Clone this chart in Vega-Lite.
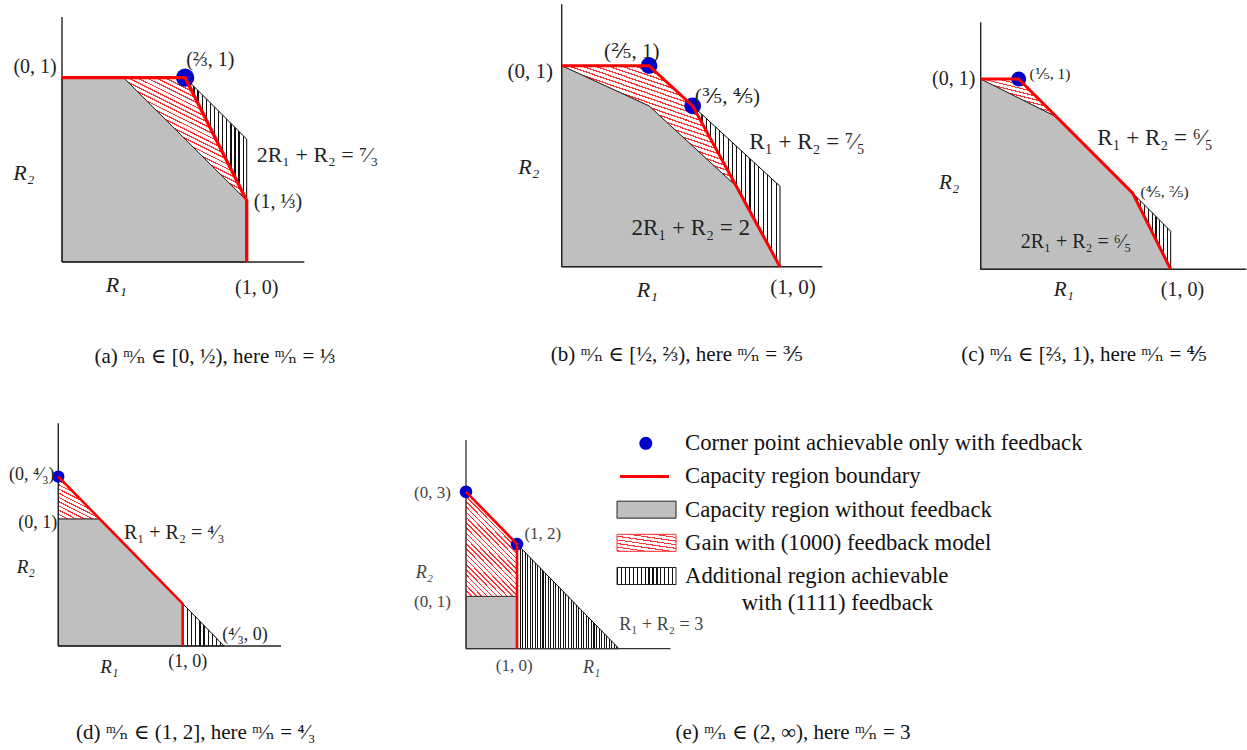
{
"$schema": "https://vega.github.io/schema/vega-lite/v6.json",
"padding": 0,
"autosize": {"type": "pad"},
"background": "white",
"spacing": 0,
"bounds": "full",
"config": {
 "view": {"stroke": null},
 "text": {"font": "Liberation Serif, DejaVu Serif", "align": "center", "baseline": "middle"},
 "style": {
  "vh10": {"fill": {"gradient": "linear", "x1": 0, "y1": 0, "x2": 1, "y2": 0, "stops": [
{"offset":0,"color":"#111"},{"offset":0.03,"color":"#111"},{"offset":0.03,"color":"#fff"},{"offset":0.1,"color":"#fff"},
{"offset":0.1,"color":"#111"},{"offset":0.13,"color":"#111"},{"offset":0.13,"color":"#fff"},{"offset":0.2,"color":"#fff"},
{"offset":0.2,"color":"#111"},{"offset":0.23,"color":"#111"},{"offset":0.23,"color":"#fff"},{"offset":0.3,"color":"#fff"},
{"offset":0.3,"color":"#111"},{"offset":0.33,"color":"#111"},{"offset":0.33,"color":"#fff"},{"offset":0.4,"color":"#fff"},
{"offset":0.4,"color":"#111"},{"offset":0.43,"color":"#111"},{"offset":0.43,"color":"#fff"},{"offset":0.5,"color":"#fff"},
{"offset":0.5,"color":"#111"},{"offset":0.53,"color":"#111"},{"offset":0.53,"color":"#fff"},{"offset":0.6,"color":"#fff"},
{"offset":0.6,"color":"#111"},{"offset":0.63,"color":"#111"},{"offset":0.63,"color":"#fff"},{"offset":0.7,"color":"#fff"},
{"offset":0.7,"color":"#111"},{"offset":0.73,"color":"#111"},{"offset":0.73,"color":"#fff"},{"offset":0.8,"color":"#fff"},
{"offset":0.8,"color":"#111"},{"offset":0.83,"color":"#111"},{"offset":0.83,"color":"#fff"},{"offset":0.9,"color":"#fff"},
{"offset":0.9,"color":"#111"},{"offset":0.93,"color":"#111"},{"offset":0.93,"color":"#fff"},{"offset":1,"color":"#fff"}]}},
  "vh15": {"fill": {"gradient": "linear", "x1": 0, "y1": 0, "x2": 1, "y2": 0, "stops": [
{"offset":0,"color":"#111"},{"offset":0.02,"color":"#111"},{"offset":0.02,"color":"#fff"},{"offset":0.066667,"color":"#fff"},
{"offset":0.066667,"color":"#111"},{"offset":0.086667,"color":"#111"},{"offset":0.086667,"color":"#fff"},{"offset":0.133333,"color":"#fff"},
{"offset":0.133333,"color":"#111"},{"offset":0.153333,"color":"#111"},{"offset":0.153333,"color":"#fff"},{"offset":0.2,"color":"#fff"},
{"offset":0.2,"color":"#111"},{"offset":0.22,"color":"#111"},{"offset":0.22,"color":"#fff"},{"offset":0.266667,"color":"#fff"},
{"offset":0.266667,"color":"#111"},{"offset":0.286667,"color":"#111"},{"offset":0.286667,"color":"#fff"},{"offset":0.333333,"color":"#fff"},
{"offset":0.333333,"color":"#111"},{"offset":0.353333,"color":"#111"},{"offset":0.353333,"color":"#fff"},{"offset":0.4,"color":"#fff"},
{"offset":0.4,"color":"#111"},{"offset":0.42,"color":"#111"},{"offset":0.42,"color":"#fff"},{"offset":0.466667,"color":"#fff"},
{"offset":0.466667,"color":"#111"},{"offset":0.486667,"color":"#111"},{"offset":0.486667,"color":"#fff"},{"offset":0.533333,"color":"#fff"},
{"offset":0.533333,"color":"#111"},{"offset":0.553333,"color":"#111"},{"offset":0.553333,"color":"#fff"},{"offset":0.6,"color":"#fff"},
{"offset":0.6,"color":"#111"},{"offset":0.62,"color":"#111"},{"offset":0.62,"color":"#fff"},{"offset":0.666667,"color":"#fff"},
{"offset":0.666667,"color":"#111"},{"offset":0.686667,"color":"#111"},{"offset":0.686667,"color":"#fff"},{"offset":0.733333,"color":"#fff"},
{"offset":0.733333,"color":"#111"},{"offset":0.753333,"color":"#111"},{"offset":0.753333,"color":"#fff"},{"offset":0.8,"color":"#fff"},
{"offset":0.8,"color":"#111"},{"offset":0.82,"color":"#111"},{"offset":0.82,"color":"#fff"},{"offset":0.866667,"color":"#fff"},
{"offset":0.866667,"color":"#111"},{"offset":0.886667,"color":"#111"},{"offset":0.886667,"color":"#fff"},{"offset":0.933333,"color":"#fff"},
{"offset":0.933333,"color":"#111"},{"offset":0.953333,"color":"#111"},{"offset":0.953333,"color":"#fff"},{"offset":1,"color":"#fff"}]}},
  "vh20": {"fill": {"gradient": "linear", "x1": 0, "y1": 0, "x2": 1, "y2": 0, "stops": [
{"offset":0,"color":"#111"},{"offset":0.0125,"color":"#111"},{"offset":0.0125,"color":"#fff"},{"offset":0.05,"color":"#fff"},
{"offset":0.05,"color":"#111"},{"offset":0.0625,"color":"#111"},{"offset":0.0625,"color":"#fff"},{"offset":0.1,"color":"#fff"},
{"offset":0.1,"color":"#111"},{"offset":0.1125,"color":"#111"},{"offset":0.1125,"color":"#fff"},{"offset":0.15,"color":"#fff"},
{"offset":0.15,"color":"#111"},{"offset":0.1625,"color":"#111"},{"offset":0.1625,"color":"#fff"},{"offset":0.2,"color":"#fff"},
{"offset":0.2,"color":"#111"},{"offset":0.2125,"color":"#111"},{"offset":0.2125,"color":"#fff"},{"offset":0.25,"color":"#fff"},
{"offset":0.25,"color":"#111"},{"offset":0.2625,"color":"#111"},{"offset":0.2625,"color":"#fff"},{"offset":0.3,"color":"#fff"},
{"offset":0.3,"color":"#111"},{"offset":0.3125,"color":"#111"},{"offset":0.3125,"color":"#fff"},{"offset":0.35,"color":"#fff"},
{"offset":0.35,"color":"#111"},{"offset":0.3625,"color":"#111"},{"offset":0.3625,"color":"#fff"},{"offset":0.4,"color":"#fff"},
{"offset":0.4,"color":"#111"},{"offset":0.4125,"color":"#111"},{"offset":0.4125,"color":"#fff"},{"offset":0.45,"color":"#fff"},
{"offset":0.45,"color":"#111"},{"offset":0.4625,"color":"#111"},{"offset":0.4625,"color":"#fff"},{"offset":0.5,"color":"#fff"},
{"offset":0.5,"color":"#111"},{"offset":0.5125,"color":"#111"},{"offset":0.5125,"color":"#fff"},{"offset":0.55,"color":"#fff"},
{"offset":0.55,"color":"#111"},{"offset":0.5625,"color":"#111"},{"offset":0.5625,"color":"#fff"},{"offset":0.6,"color":"#fff"},
{"offset":0.6,"color":"#111"},{"offset":0.6125,"color":"#111"},{"offset":0.6125,"color":"#fff"},{"offset":0.65,"color":"#fff"},
{"offset":0.65,"color":"#111"},{"offset":0.6625,"color":"#111"},{"offset":0.6625,"color":"#fff"},{"offset":0.7,"color":"#fff"},
{"offset":0.7,"color":"#111"},{"offset":0.7125,"color":"#111"},{"offset":0.7125,"color":"#fff"},{"offset":0.75,"color":"#fff"},
{"offset":0.75,"color":"#111"},{"offset":0.7625,"color":"#111"},{"offset":0.7625,"color":"#fff"},{"offset":0.8,"color":"#fff"},
{"offset":0.8,"color":"#111"},{"offset":0.8125,"color":"#111"},{"offset":0.8125,"color":"#fff"},{"offset":0.85,"color":"#fff"},
{"offset":0.85,"color":"#111"},{"offset":0.8625,"color":"#111"},{"offset":0.8625,"color":"#fff"},{"offset":0.9,"color":"#fff"},
{"offset":0.9,"color":"#111"},{"offset":0.9125,"color":"#111"},{"offset":0.9125,"color":"#fff"},{"offset":0.95,"color":"#fff"},
{"offset":0.95,"color":"#111"},{"offset":0.9625,"color":"#111"},{"offset":0.9625,"color":"#fff"},{"offset":1,"color":"#fff"}]}},
  "vh40": {"fill": {"gradient": "linear", "x1": 0, "y1": 0, "x2": 1, "y2": 0, "stops": [
{"offset":0,"color":"#111"},{"offset":0.01,"color":"#111"},{"offset":0.01,"color":"#fff"},{"offset":0.025,"color":"#fff"},
{"offset":0.025,"color":"#111"},{"offset":0.035,"color":"#111"},{"offset":0.035,"color":"#fff"},{"offset":0.05,"color":"#fff"},
{"offset":0.05,"color":"#111"},{"offset":0.06,"color":"#111"},{"offset":0.06,"color":"#fff"},{"offset":0.075,"color":"#fff"},
{"offset":0.075,"color":"#111"},{"offset":0.085,"color":"#111"},{"offset":0.085,"color":"#fff"},{"offset":0.1,"color":"#fff"},
{"offset":0.1,"color":"#111"},{"offset":0.11,"color":"#111"},{"offset":0.11,"color":"#fff"},{"offset":0.125,"color":"#fff"},
{"offset":0.125,"color":"#111"},{"offset":0.135,"color":"#111"},{"offset":0.135,"color":"#fff"},{"offset":0.15,"color":"#fff"},
{"offset":0.15,"color":"#111"},{"offset":0.16,"color":"#111"},{"offset":0.16,"color":"#fff"},{"offset":0.175,"color":"#fff"},
{"offset":0.175,"color":"#111"},{"offset":0.185,"color":"#111"},{"offset":0.185,"color":"#fff"},{"offset":0.2,"color":"#fff"},
{"offset":0.2,"color":"#111"},{"offset":0.21,"color":"#111"},{"offset":0.21,"color":"#fff"},{"offset":0.225,"color":"#fff"},
{"offset":0.225,"color":"#111"},{"offset":0.235,"color":"#111"},{"offset":0.235,"color":"#fff"},{"offset":0.25,"color":"#fff"},
{"offset":0.25,"color":"#111"},{"offset":0.26,"color":"#111"},{"offset":0.26,"color":"#fff"},{"offset":0.275,"color":"#fff"},
{"offset":0.275,"color":"#111"},{"offset":0.285,"color":"#111"},{"offset":0.285,"color":"#fff"},{"offset":0.3,"color":"#fff"},
{"offset":0.3,"color":"#111"},{"offset":0.31,"color":"#111"},{"offset":0.31,"color":"#fff"},{"offset":0.325,"color":"#fff"},
{"offset":0.325,"color":"#111"},{"offset":0.335,"color":"#111"},{"offset":0.335,"color":"#fff"},{"offset":0.35,"color":"#fff"},
{"offset":0.35,"color":"#111"},{"offset":0.36,"color":"#111"},{"offset":0.36,"color":"#fff"},{"offset":0.375,"color":"#fff"},
{"offset":0.375,"color":"#111"},{"offset":0.385,"color":"#111"},{"offset":0.385,"color":"#fff"},{"offset":0.4,"color":"#fff"},
{"offset":0.4,"color":"#111"},{"offset":0.41,"color":"#111"},{"offset":0.41,"color":"#fff"},{"offset":0.425,"color":"#fff"},
{"offset":0.425,"color":"#111"},{"offset":0.435,"color":"#111"},{"offset":0.435,"color":"#fff"},{"offset":0.45,"color":"#fff"},
{"offset":0.45,"color":"#111"},{"offset":0.46,"color":"#111"},{"offset":0.46,"color":"#fff"},{"offset":0.475,"color":"#fff"},
{"offset":0.475,"color":"#111"},{"offset":0.485,"color":"#111"},{"offset":0.485,"color":"#fff"},{"offset":0.5,"color":"#fff"},
{"offset":0.5,"color":"#111"},{"offset":0.51,"color":"#111"},{"offset":0.51,"color":"#fff"},{"offset":0.525,"color":"#fff"},
{"offset":0.525,"color":"#111"},{"offset":0.535,"color":"#111"},{"offset":0.535,"color":"#fff"},{"offset":0.55,"color":"#fff"},
{"offset":0.55,"color":"#111"},{"offset":0.56,"color":"#111"},{"offset":0.56,"color":"#fff"},{"offset":0.575,"color":"#fff"},
{"offset":0.575,"color":"#111"},{"offset":0.585,"color":"#111"},{"offset":0.585,"color":"#fff"},{"offset":0.6,"color":"#fff"},
{"offset":0.6,"color":"#111"},{"offset":0.61,"color":"#111"},{"offset":0.61,"color":"#fff"},{"offset":0.625,"color":"#fff"},
{"offset":0.625,"color":"#111"},{"offset":0.635,"color":"#111"},{"offset":0.635,"color":"#fff"},{"offset":0.65,"color":"#fff"},
{"offset":0.65,"color":"#111"},{"offset":0.66,"color":"#111"},{"offset":0.66,"color":"#fff"},{"offset":0.675,"color":"#fff"},
{"offset":0.675,"color":"#111"},{"offset":0.685,"color":"#111"},{"offset":0.685,"color":"#fff"},{"offset":0.7,"color":"#fff"},
{"offset":0.7,"color":"#111"},{"offset":0.71,"color":"#111"},{"offset":0.71,"color":"#fff"},{"offset":0.725,"color":"#fff"},
{"offset":0.725,"color":"#111"},{"offset":0.735,"color":"#111"},{"offset":0.735,"color":"#fff"},{"offset":0.75,"color":"#fff"},
{"offset":0.75,"color":"#111"},{"offset":0.76,"color":"#111"},{"offset":0.76,"color":"#fff"},{"offset":0.775,"color":"#fff"},
{"offset":0.775,"color":"#111"},{"offset":0.785,"color":"#111"},{"offset":0.785,"color":"#fff"},{"offset":0.8,"color":"#fff"},
{"offset":0.8,"color":"#111"},{"offset":0.81,"color":"#111"},{"offset":0.81,"color":"#fff"},{"offset":0.825,"color":"#fff"},
{"offset":0.825,"color":"#111"},{"offset":0.835,"color":"#111"},{"offset":0.835,"color":"#fff"},{"offset":0.85,"color":"#fff"},
{"offset":0.85,"color":"#111"},{"offset":0.86,"color":"#111"},{"offset":0.86,"color":"#fff"},{"offset":0.875,"color":"#fff"},
{"offset":0.875,"color":"#111"},{"offset":0.885,"color":"#111"},{"offset":0.885,"color":"#fff"},{"offset":0.9,"color":"#fff"},
{"offset":0.9,"color":"#111"},{"offset":0.91,"color":"#111"},{"offset":0.91,"color":"#fff"},{"offset":0.925,"color":"#fff"},
{"offset":0.925,"color":"#111"},{"offset":0.935,"color":"#111"},{"offset":0.935,"color":"#fff"},{"offset":0.95,"color":"#fff"},
{"offset":0.95,"color":"#111"},{"offset":0.96,"color":"#111"},{"offset":0.96,"color":"#fff"},{"offset":0.975,"color":"#fff"},
{"offset":0.975,"color":"#111"},{"offset":0.985,"color":"#111"},{"offset":0.985,"color":"#fff"},{"offset":1,"color":"#fff"}]}},
  "rh40": {"fill": {"gradient": "linear", "x1": 0, "y1": 1, "x2": 0.6, "y2": -0.2, "stops": [
{"offset":0,"color":"#f33"},{"offset":0.0075,"color":"#f33"},{"offset":0.0075,"color":"#fff"},{"offset":0.025,"color":"#fff"},
{"offset":0.025,"color":"#f33"},{"offset":0.0325,"color":"#f33"},{"offset":0.0325,"color":"#fff"},{"offset":0.05,"color":"#fff"},
{"offset":0.05,"color":"#f33"},{"offset":0.0575,"color":"#f33"},{"offset":0.0575,"color":"#fff"},{"offset":0.075,"color":"#fff"},
{"offset":0.075,"color":"#f33"},{"offset":0.0825,"color":"#f33"},{"offset":0.0825,"color":"#fff"},{"offset":0.1,"color":"#fff"},
{"offset":0.1,"color":"#f33"},{"offset":0.1075,"color":"#f33"},{"offset":0.1075,"color":"#fff"},{"offset":0.125,"color":"#fff"},
{"offset":0.125,"color":"#f33"},{"offset":0.1325,"color":"#f33"},{"offset":0.1325,"color":"#fff"},{"offset":0.15,"color":"#fff"},
{"offset":0.15,"color":"#f33"},{"offset":0.1575,"color":"#f33"},{"offset":0.1575,"color":"#fff"},{"offset":0.175,"color":"#fff"},
{"offset":0.175,"color":"#f33"},{"offset":0.1825,"color":"#f33"},{"offset":0.1825,"color":"#fff"},{"offset":0.2,"color":"#fff"},
{"offset":0.2,"color":"#f33"},{"offset":0.2075,"color":"#f33"},{"offset":0.2075,"color":"#fff"},{"offset":0.225,"color":"#fff"},
{"offset":0.225,"color":"#f33"},{"offset":0.2325,"color":"#f33"},{"offset":0.2325,"color":"#fff"},{"offset":0.25,"color":"#fff"},
{"offset":0.25,"color":"#f33"},{"offset":0.2575,"color":"#f33"},{"offset":0.2575,"color":"#fff"},{"offset":0.275,"color":"#fff"},
{"offset":0.275,"color":"#f33"},{"offset":0.2825,"color":"#f33"},{"offset":0.2825,"color":"#fff"},{"offset":0.3,"color":"#fff"},
{"offset":0.3,"color":"#f33"},{"offset":0.3075,"color":"#f33"},{"offset":0.3075,"color":"#fff"},{"offset":0.325,"color":"#fff"},
{"offset":0.325,"color":"#f33"},{"offset":0.3325,"color":"#f33"},{"offset":0.3325,"color":"#fff"},{"offset":0.35,"color":"#fff"},
{"offset":0.35,"color":"#f33"},{"offset":0.3575,"color":"#f33"},{"offset":0.3575,"color":"#fff"},{"offset":0.375,"color":"#fff"},
{"offset":0.375,"color":"#f33"},{"offset":0.3825,"color":"#f33"},{"offset":0.3825,"color":"#fff"},{"offset":0.4,"color":"#fff"},
{"offset":0.4,"color":"#f33"},{"offset":0.4075,"color":"#f33"},{"offset":0.4075,"color":"#fff"},{"offset":0.425,"color":"#fff"},
{"offset":0.425,"color":"#f33"},{"offset":0.4325,"color":"#f33"},{"offset":0.4325,"color":"#fff"},{"offset":0.45,"color":"#fff"},
{"offset":0.45,"color":"#f33"},{"offset":0.4575,"color":"#f33"},{"offset":0.4575,"color":"#fff"},{"offset":0.475,"color":"#fff"},
{"offset":0.475,"color":"#f33"},{"offset":0.4825,"color":"#f33"},{"offset":0.4825,"color":"#fff"},{"offset":0.5,"color":"#fff"},
{"offset":0.5,"color":"#f33"},{"offset":0.5075,"color":"#f33"},{"offset":0.5075,"color":"#fff"},{"offset":0.525,"color":"#fff"},
{"offset":0.525,"color":"#f33"},{"offset":0.5325,"color":"#f33"},{"offset":0.5325,"color":"#fff"},{"offset":0.55,"color":"#fff"},
{"offset":0.55,"color":"#f33"},{"offset":0.5575,"color":"#f33"},{"offset":0.5575,"color":"#fff"},{"offset":0.575,"color":"#fff"},
{"offset":0.575,"color":"#f33"},{"offset":0.5825,"color":"#f33"},{"offset":0.5825,"color":"#fff"},{"offset":0.6,"color":"#fff"},
{"offset":0.6,"color":"#f33"},{"offset":0.6075,"color":"#f33"},{"offset":0.6075,"color":"#fff"},{"offset":0.625,"color":"#fff"},
{"offset":0.625,"color":"#f33"},{"offset":0.6325,"color":"#f33"},{"offset":0.6325,"color":"#fff"},{"offset":0.65,"color":"#fff"},
{"offset":0.65,"color":"#f33"},{"offset":0.6575,"color":"#f33"},{"offset":0.6575,"color":"#fff"},{"offset":0.675,"color":"#fff"},
{"offset":0.675,"color":"#f33"},{"offset":0.6825,"color":"#f33"},{"offset":0.6825,"color":"#fff"},{"offset":0.7,"color":"#fff"},
{"offset":0.7,"color":"#f33"},{"offset":0.7075,"color":"#f33"},{"offset":0.7075,"color":"#fff"},{"offset":0.725,"color":"#fff"},
{"offset":0.725,"color":"#f33"},{"offset":0.7325,"color":"#f33"},{"offset":0.7325,"color":"#fff"},{"offset":0.75,"color":"#fff"},
{"offset":0.75,"color":"#f33"},{"offset":0.7575,"color":"#f33"},{"offset":0.7575,"color":"#fff"},{"offset":0.775,"color":"#fff"},
{"offset":0.775,"color":"#f33"},{"offset":0.7825,"color":"#f33"},{"offset":0.7825,"color":"#fff"},{"offset":0.8,"color":"#fff"},
{"offset":0.8,"color":"#f33"},{"offset":0.8075,"color":"#f33"},{"offset":0.8075,"color":"#fff"},{"offset":0.825,"color":"#fff"},
{"offset":0.825,"color":"#f33"},{"offset":0.8325,"color":"#f33"},{"offset":0.8325,"color":"#fff"},{"offset":0.85,"color":"#fff"},
{"offset":0.85,"color":"#f33"},{"offset":0.8575,"color":"#f33"},{"offset":0.8575,"color":"#fff"},{"offset":0.875,"color":"#fff"},
{"offset":0.875,"color":"#f33"},{"offset":0.8825,"color":"#f33"},{"offset":0.8825,"color":"#fff"},{"offset":0.9,"color":"#fff"},
{"offset":0.9,"color":"#f33"},{"offset":0.9075,"color":"#f33"},{"offset":0.9075,"color":"#fff"},{"offset":0.925,"color":"#fff"},
{"offset":0.925,"color":"#f33"},{"offset":0.9325,"color":"#f33"},{"offset":0.9325,"color":"#fff"},{"offset":0.95,"color":"#fff"},
{"offset":0.95,"color":"#f33"},{"offset":0.9575,"color":"#f33"},{"offset":0.9575,"color":"#fff"},{"offset":0.975,"color":"#fff"},
{"offset":0.975,"color":"#f33"},{"offset":0.9825,"color":"#f33"},{"offset":0.9825,"color":"#fff"},{"offset":1,"color":"#fff"}]}},
  "rh15": {"fill": {"gradient": "linear", "x1": 0, "y1": 1, "x2": 0.6, "y2": -0.2, "stops": [
{"offset":0,"color":"#f33"},{"offset":0.02,"color":"#f33"},{"offset":0.02,"color":"#fff"},{"offset":0.066667,"color":"#fff"},
{"offset":0.066667,"color":"#f33"},{"offset":0.086667,"color":"#f33"},{"offset":0.086667,"color":"#fff"},{"offset":0.133333,"color":"#fff"},
{"offset":0.133333,"color":"#f33"},{"offset":0.153333,"color":"#f33"},{"offset":0.153333,"color":"#fff"},{"offset":0.2,"color":"#fff"},
{"offset":0.2,"color":"#f33"},{"offset":0.22,"color":"#f33"},{"offset":0.22,"color":"#fff"},{"offset":0.266667,"color":"#fff"},
{"offset":0.266667,"color":"#f33"},{"offset":0.286667,"color":"#f33"},{"offset":0.286667,"color":"#fff"},{"offset":0.333333,"color":"#fff"},
{"offset":0.333333,"color":"#f33"},{"offset":0.353333,"color":"#f33"},{"offset":0.353333,"color":"#fff"},{"offset":0.4,"color":"#fff"},
{"offset":0.4,"color":"#f33"},{"offset":0.42,"color":"#f33"},{"offset":0.42,"color":"#fff"},{"offset":0.466667,"color":"#fff"},
{"offset":0.466667,"color":"#f33"},{"offset":0.486667,"color":"#f33"},{"offset":0.486667,"color":"#fff"},{"offset":0.533333,"color":"#fff"},
{"offset":0.533333,"color":"#f33"},{"offset":0.553333,"color":"#f33"},{"offset":0.553333,"color":"#fff"},{"offset":0.6,"color":"#fff"},
{"offset":0.6,"color":"#f33"},{"offset":0.62,"color":"#f33"},{"offset":0.62,"color":"#fff"},{"offset":0.666667,"color":"#fff"},
{"offset":0.666667,"color":"#f33"},{"offset":0.686667,"color":"#f33"},{"offset":0.686667,"color":"#fff"},{"offset":0.733333,"color":"#fff"},
{"offset":0.733333,"color":"#f33"},{"offset":0.753333,"color":"#f33"},{"offset":0.753333,"color":"#fff"},{"offset":0.8,"color":"#fff"},
{"offset":0.8,"color":"#f33"},{"offset":0.82,"color":"#f33"},{"offset":0.82,"color":"#fff"},{"offset":0.866667,"color":"#fff"},
{"offset":0.866667,"color":"#f33"},{"offset":0.886667,"color":"#f33"},{"offset":0.886667,"color":"#fff"},{"offset":0.933333,"color":"#fff"},
{"offset":0.933333,"color":"#f33"},{"offset":0.953333,"color":"#f33"},{"offset":0.953333,"color":"#fff"},{"offset":1,"color":"#fff"}]}},
  "rh30": {"fill": {"gradient": "linear", "x1": 0, "y1": 1, "x2": 0.6, "y2": -0.2, "stops": [
{"offset":0,"color":"#f33"},{"offset":0.01,"color":"#f33"},{"offset":0.01,"color":"#fff"},{"offset":0.033333,"color":"#fff"},
{"offset":0.033333,"color":"#f33"},{"offset":0.043333,"color":"#f33"},{"offset":0.043333,"color":"#fff"},{"offset":0.066667,"color":"#fff"},
{"offset":0.066667,"color":"#f33"},{"offset":0.076667,"color":"#f33"},{"offset":0.076667,"color":"#fff"},{"offset":0.1,"color":"#fff"},
{"offset":0.1,"color":"#f33"},{"offset":0.11,"color":"#f33"},{"offset":0.11,"color":"#fff"},{"offset":0.133333,"color":"#fff"},
{"offset":0.133333,"color":"#f33"},{"offset":0.143333,"color":"#f33"},{"offset":0.143333,"color":"#fff"},{"offset":0.166667,"color":"#fff"},
{"offset":0.166667,"color":"#f33"},{"offset":0.176667,"color":"#f33"},{"offset":0.176667,"color":"#fff"},{"offset":0.2,"color":"#fff"},
{"offset":0.2,"color":"#f33"},{"offset":0.21,"color":"#f33"},{"offset":0.21,"color":"#fff"},{"offset":0.233333,"color":"#fff"},
{"offset":0.233333,"color":"#f33"},{"offset":0.243333,"color":"#f33"},{"offset":0.243333,"color":"#fff"},{"offset":0.266667,"color":"#fff"},
{"offset":0.266667,"color":"#f33"},{"offset":0.276667,"color":"#f33"},{"offset":0.276667,"color":"#fff"},{"offset":0.3,"color":"#fff"},
{"offset":0.3,"color":"#f33"},{"offset":0.31,"color":"#f33"},{"offset":0.31,"color":"#fff"},{"offset":0.333333,"color":"#fff"},
{"offset":0.333333,"color":"#f33"},{"offset":0.343333,"color":"#f33"},{"offset":0.343333,"color":"#fff"},{"offset":0.366667,"color":"#fff"},
{"offset":0.366667,"color":"#f33"},{"offset":0.376667,"color":"#f33"},{"offset":0.376667,"color":"#fff"},{"offset":0.4,"color":"#fff"},
{"offset":0.4,"color":"#f33"},{"offset":0.41,"color":"#f33"},{"offset":0.41,"color":"#fff"},{"offset":0.433333,"color":"#fff"},
{"offset":0.433333,"color":"#f33"},{"offset":0.443333,"color":"#f33"},{"offset":0.443333,"color":"#fff"},{"offset":0.466667,"color":"#fff"},
{"offset":0.466667,"color":"#f33"},{"offset":0.476667,"color":"#f33"},{"offset":0.476667,"color":"#fff"},{"offset":0.5,"color":"#fff"},
{"offset":0.5,"color":"#f33"},{"offset":0.51,"color":"#f33"},{"offset":0.51,"color":"#fff"},{"offset":0.533333,"color":"#fff"},
{"offset":0.533333,"color":"#f33"},{"offset":0.543333,"color":"#f33"},{"offset":0.543333,"color":"#fff"},{"offset":0.566667,"color":"#fff"},
{"offset":0.566667,"color":"#f33"},{"offset":0.576667,"color":"#f33"},{"offset":0.576667,"color":"#fff"},{"offset":0.6,"color":"#fff"},
{"offset":0.6,"color":"#f33"},{"offset":0.61,"color":"#f33"},{"offset":0.61,"color":"#fff"},{"offset":0.633333,"color":"#fff"},
{"offset":0.633333,"color":"#f33"},{"offset":0.643333,"color":"#f33"},{"offset":0.643333,"color":"#fff"},{"offset":0.666667,"color":"#fff"},
{"offset":0.666667,"color":"#f33"},{"offset":0.676667,"color":"#f33"},{"offset":0.676667,"color":"#fff"},{"offset":0.7,"color":"#fff"},
{"offset":0.7,"color":"#f33"},{"offset":0.71,"color":"#f33"},{"offset":0.71,"color":"#fff"},{"offset":0.733333,"color":"#fff"},
{"offset":0.733333,"color":"#f33"},{"offset":0.743333,"color":"#f33"},{"offset":0.743333,"color":"#fff"},{"offset":0.766667,"color":"#fff"},
{"offset":0.766667,"color":"#f33"},{"offset":0.776667,"color":"#f33"},{"offset":0.776667,"color":"#fff"},{"offset":0.8,"color":"#fff"},
{"offset":0.8,"color":"#f33"},{"offset":0.81,"color":"#f33"},{"offset":0.81,"color":"#fff"},{"offset":0.833333,"color":"#fff"},
{"offset":0.833333,"color":"#f33"},{"offset":0.843333,"color":"#f33"},{"offset":0.843333,"color":"#fff"},{"offset":0.866667,"color":"#fff"},
{"offset":0.866667,"color":"#f33"},{"offset":0.876667,"color":"#f33"},{"offset":0.876667,"color":"#fff"},{"offset":0.9,"color":"#fff"},
{"offset":0.9,"color":"#f33"},{"offset":0.91,"color":"#f33"},{"offset":0.91,"color":"#fff"},{"offset":0.933333,"color":"#fff"},
{"offset":0.933333,"color":"#f33"},{"offset":0.943333,"color":"#f33"},{"offset":0.943333,"color":"#fff"},{"offset":0.966667,"color":"#fff"},
{"offset":0.966667,"color":"#f33"},{"offset":0.976667,"color":"#f33"},{"offset":0.976667,"color":"#fff"},{"offset":1,"color":"#fff"}]}}
 }
},
"datasets": {
 "a": [
  {"r":"gray","i":0,"x":0,"y":0},{"r":"gray","i":1,"x":0,"y":1},{"r":"gray","i":2,"x":0.3333,"y":1},{"r":"gray","i":3,"x":1,"y":0.3333},{"r":"gray","i":4,"x":1,"y":0},{"r":"gray","i":5,"x":0,"y":0},
  {"r":"red","i":0,"x":0.3333,"y":1},{"r":"red","i":1,"x":0.6667,"y":1},{"r":"red","i":2,"x":1,"y":0.3333},{"r":"red","i":3,"x":0.3333,"y":1},
  {"r":"blk","i":0,"x":0.6667,"y":1},{"r":"blk","i":1,"x":1,"y":0.6667},{"r":"blk","i":2,"x":1,"y":0.3333},{"r":"blk","i":3,"x":0.6667,"y":1},
  {"r":"bd","i":0,"x":0,"y":1},{"r":"bd","i":1,"x":0.6667,"y":1},{"r":"bd","i":2,"x":1,"y":0.3333},{"r":"bd","i":3,"x":1,"y":0},
  {"r":"pt","x":0.6667,"y":1},
  {"r":"lab","t":"(0, 1)","x":-0.146,"y":1.06},
  {"r":"lab","t":"(⅔, 1)","x":0.803,"y":1.096},
  {"r":"eq","t":"2R₁ + R₂ = ⁷⁄₃","x":1.383,"y":0.581},
  {"r":"lab","t":"(1, ⅓)","x":1.169,"y":0.327},
  {"r":"lab","t":"(1, 0)","x":1.054,"y":-0.143},
  {"r":"ax","t":"R₁","x":0.294,"y":-0.125},
  {"r":"ax","t":"R₂","x":-0.207,"y":0.481},
  {"r":"cap","t":"(a)  ᵐ⁄ₙ ∈ [0, ½), here  ᵐ⁄ₙ = ⅓","x":0.828,"y":-0.514}
 ],
 "b": [
  {"r":"gray","i":0,"x":0,"y":0},{"r":"gray","i":1,"x":0,"y":1},{"r":"gray","i":2,"x":0.4,"y":0.8},{"r":"gray","i":3,"x":0.8,"y":0.4},{"r":"gray","i":4,"x":1,"y":0},{"r":"gray","i":5,"x":0,"y":0},
  {"r":"red","i":0,"x":0,"y":1},{"r":"red","i":1,"x":0.4,"y":1},{"r":"red","i":2,"x":0.6,"y":0.8},{"r":"red","i":3,"x":0.8,"y":0.4},{"r":"red","i":4,"x":0.4,"y":0.8},{"r":"red","i":5,"x":0,"y":1},
  {"r":"blk","i":0,"x":0.6,"y":0.8},{"r":"blk","i":1,"x":1,"y":0.4},{"r":"blk","i":2,"x":1,"y":0},{"r":"blk","i":3,"x":0.8,"y":0.4},{"r":"blk","i":4,"x":0.6,"y":0.8},
  {"r":"bd","i":0,"x":0,"y":1},{"r":"bd","i":1,"x":0.4,"y":1},{"r":"bd","i":2,"x":0.6,"y":0.8},{"r":"bd","i":3,"x":0.8,"y":0.4},{"r":"bd","i":4,"x":1,"y":0},
  {"r":"pt","x":0.4,"y":1},{"r":"pt","x":0.6,"y":0.8},
  {"r":"lab","t":"(0, 1)","x":-0.144,"y":0.97},
  {"r":"lab","t":"(⅖, 1)","x":0.321,"y":1.07},
  {"r":"lab","t":"(⅗, ⅘)","x":0.759,"y":0.846},
  {"r":"eq","t":"R₁ + R₂ = ⁷⁄₅","x":1.124,"y":0.622},
  {"r":"eq","t":"2R₁ + R₂ = 2","x":0.591,"y":0.191},
  {"r":"lab","t":"(1, 0)","x":1.06,"y":-0.107},
  {"r":"ax","t":"R₁","x":0.392,"y":-0.116},
  {"r":"ax","t":"R₂","x":-0.151,"y":0.4975},
  {"r":"cap","t":"(b)  ᵐ⁄ₙ ∈ [½, ⅔), here  ᵐ⁄ₙ = ⅗","x":0.527,"y":-0.439}
 ],
 "c": [
  {"r":"gray","i":0,"x":0,"y":0},{"r":"gray","i":1,"x":0,"y":1},{"r":"gray","i":2,"x":0.4,"y":0.8},{"r":"gray","i":3,"x":0.8,"y":0.4},{"r":"gray","i":4,"x":1,"y":0},{"r":"gray","i":5,"x":0,"y":0},
  {"r":"red","i":0,"x":0,"y":1},{"r":"red","i":1,"x":0.2,"y":1},{"r":"red","i":2,"x":0.4,"y":0.8},{"r":"red","i":3,"x":0,"y":1},
  {"r":"blk","i":0,"x":0.8,"y":0.4},{"r":"blk","i":1,"x":1,"y":0.2},{"r":"blk","i":2,"x":1,"y":0},{"r":"blk","i":3,"x":0.8,"y":0.4},
  {"r":"bd","i":0,"x":0,"y":1},{"r":"bd","i":1,"x":0.2,"y":1},{"r":"bd","i":2,"x":0.8,"y":0.4},{"r":"bd","i":3,"x":1,"y":0},
  {"r":"pt","x":0.2,"y":1},
  {"r":"lab","t":"(0, 1)","x":-0.142,"y":1.0},
  {"r":"eq","t":"R₁ + R₂ = ⁶⁄₅","x":0.917,"y":0.688},
  {"r":"lab","t":"2R₁ + R₂ = ⁶⁄₅","x":0.501,"y":0.145},
  {"r":"lab","t":"(1, 0)","x":1.062,"y":-0.109},
  {"r":"sm","t":"(⅕, 1)","x":0.365,"y":1.026},
  {"r":"sm","t":"(⅘, ⅖)","x":0.968,"y":0.408},
  {"r":"ax","t":"R₁","x":0.437,"y":-0.109},
  {"r":"ax","t":"R₂","x":-0.166,"y":0.452},
  {"r":"cap","t":"(c)  ᵐ⁄ₙ ∈ [⅔, 1), here  ᵐ⁄ₙ = ⅘","x":0.544,"y":-0.45}
 ],
 "d": [
  {"r":"gray","i":0,"x":0,"y":0},{"r":"gray","i":1,"x":0,"y":1},{"r":"gray","i":2,"x":0.3333,"y":1},{"r":"gray","i":3,"x":1,"y":0.3333},{"r":"gray","i":4,"x":1,"y":0},{"r":"gray","i":5,"x":0,"y":0},
  {"r":"red","i":0,"x":0,"y":1.3333},{"r":"red","i":1,"x":0.3333,"y":1},{"r":"red","i":2,"x":0,"y":1},{"r":"red","i":3,"x":0,"y":1.3333},
  {"r":"blk","i":0,"x":1,"y":0.3333},{"r":"blk","i":1,"x":1.3333,"y":0},{"r":"blk","i":2,"x":1,"y":0},{"r":"blk","i":3,"x":1,"y":0.3333},
  {"r":"bd","i":0,"x":0,"y":1.3333},{"r":"bd","i":1,"x":1,"y":0.3333},{"r":"bd","i":2,"x":1,"y":0},
  {"r":"pt","x":0,"y":1.3333},
  {"r":"lab","t":"(0, ⁴⁄₃)","x":-0.214,"y":1.346},
  {"r":"lab","t":"(0, 1)","x":-0.165,"y":0.966},
  {"r":"eq","t":"R₁ + R₂ = ⁴⁄₃","x":0.932,"y":0.887},
  {"r":"lab","t":"(⁴⁄₃, 0)","x":1.501,"y":0.087},
  {"r":"lab","t":"(1, 0)","x":1.041,"y":-0.124},
  {"r":"ax","t":"R₁","x":0.41,"y":-0.163},
  {"r":"ax","t":"R₂","x":-0.261,"y":0.624},
  {"r":"cap","t":"(d)  ᵐ⁄ₙ ∈ (1, 2], here  ᵐ⁄ₙ = ⁴⁄₃","x":1.105,"y":-0.687}
 ],
 "e": [
  {"r":"gray","i":0,"x":0,"y":0},{"r":"gray","i":1,"x":0,"y":1},{"r":"gray","i":2,"x":1,"y":1},{"r":"gray","i":3,"x":1,"y":0},{"r":"gray","i":4,"x":0,"y":0},
  {"r":"red","i":0,"x":0,"y":1},{"r":"red","i":1,"x":0,"y":3},{"r":"red","i":2,"x":1,"y":2},{"r":"red","i":3,"x":1,"y":1},{"r":"red","i":4,"x":0,"y":1},
  {"r":"blk","i":0,"x":1,"y":2},{"r":"blk","i":1,"x":3,"y":0},{"r":"blk","i":2,"x":1,"y":0},{"r":"blk","i":3,"x":1,"y":2},
  {"r":"bd","i":0,"x":0,"y":3},{"r":"bd","i":1,"x":1,"y":2},{"r":"bd","i":2,"x":1,"y":0},
  {"r":"pt","x":0,"y":3},{"r":"pt","x":1,"y":2},
  {"r":"lab","t":"(0, 3)","x":-0.657,"y":2.983},
  {"r":"lab","t":"(1, 2)","x":1.506,"y":2.187},
  {"r":"lab","t":"(0, 1)","x":-0.657,"y":0.899},
  {"r":"eq","t":"R₁ + R₂ = 3","x":3.829,"y":0.453},
  {"r":"lab","t":"(1, 0)","x":0.945,"y":-0.331},
  {"r":"ax","t":"R₂","x":-0.814,"y":1.442},
  {"r":"ax","t":"R₁","x":2.465,"y":-0.375},
  {"r":"cap","t":"(e)  ᵐ⁄ₙ ∈ (2, ∞), here  ᵐ⁄ₙ = 3","x":6.412,"y":-1.612}
 ]
},
"vconcat": [
 {"hconcat": [
  {"width": 420, "height": 380, "data": {"name": "a"},
   "encoding": {
    "x": {"field": "x", "type": "quantitative", "axis": null, "scale": {"domain": [-0.3357, 1.9383], "nice": false, "zero": false}},
    "y": {"field": "y", "type": "quantitative", "axis": null, "scale": {"domain": [-0.6403, 1.4216], "nice": false, "zero": false}}},
   "layer": [
    {"transform": [{"filter": "datum.r === 'red'"}], "mark": {"type": "line", "style": "rh40", "stroke": "#ff3030", "strokeWidth": 0.8}, "encoding": {"order": {"field": "i", "type": "quantitative"}}},
    {"transform": [{"filter": "datum.r === 'blk'"}], "mark": {"type": "line", "style": "vh15", "stroke": "#000", "strokeWidth": 1}, "encoding": {"order": {"field": "i", "type": "quantitative"}}},
    {"transform": [{"filter": "datum.r === 'gray'"}], "mark": {"type": "line", "fill": "#bfbfbf", "stroke": "#222", "strokeWidth": 1}, "encoding": {"order": {"field": "i", "type": "quantitative"}}},
    {"transform": [{"filter": "datum.r === 'cap'"}], "mark": {"type": "rule", "color": "#222", "strokeWidth": 1.4}, "encoding": {"x": {"datum": 0}, "y": {"datum": 0}, "y2": {"datum": 1.329}}},
    {"transform": [{"filter": "datum.r === 'cap'"}], "mark": {"type": "rule", "color": "#222", "strokeWidth": 1.4}, "encoding": {"x": {"datum": 0}, "x2": {"datum": 1.312}, "y": {"datum": 0}}},
    {"transform": [{"filter": "datum.r === 'pt'"}], "mark": {"type": "point", "shape": "circle", "filled": true, "color": "#0000cc", "opacity": 1, "size": 335}},
    {"transform": [{"filter": "datum.r === 'bd'"}], "mark": {"type": "line", "color": "#ff0000", "strokeWidth": 3.3, "strokeJoin": "miter"}, "encoding": {"order": {"field": "i", "type": "quantitative"}}},
    {"transform": [{"filter": "datum.r === 'lab'"}], "mark": {"type": "text", "fontSize": 20, "color": "#222"}, "encoding": {"text": {"field": "t"}}},
    {"transform": [{"filter": "datum.r === 'eq'"}], "mark": {"type": "text", "fontSize": 22, "color": "#222"}, "encoding": {"text": {"field": "t"}}},
    {"transform": [{"filter": "datum.r === 'ax'"}], "mark": {"type": "text", "fontSize": 22, "fontStyle": "italic", "color": "#222"}, "encoding": {"text": {"field": "t"}}},
    {"transform": [{"filter": "datum.r === 'cap'"}], "mark": {"type": "text", "fontSize": 21, "color": "#111"}, "encoding": {"text": {"field": "t"}}}
   ]},
  {"width": 480, "height": 380, "data": {"name": "b"},
   "encoding": {
    "x": {"field": "x", "type": "quantitative", "axis": null, "scale": {"domain": [-0.6491, 1.5497], "nice": false, "zero": false}},
    "y": {"field": "y", "type": "quantitative", "axis": null, "scale": {"domain": [-0.5637, 1.3269], "nice": false, "zero": false}}},
   "layer": [
    {"transform": [{"filter": "datum.r === 'red'"}], "mark": {"type": "line", "style": "rh40", "stroke": "#ff3030", "strokeWidth": 0.8}, "encoding": {"order": {"field": "i", "type": "quantitative"}}},
    {"transform": [{"filter": "datum.r === 'blk'"}], "mark": {"type": "line", "style": "vh20", "stroke": "#000", "strokeWidth": 1}, "encoding": {"order": {"field": "i", "type": "quantitative"}}},
    {"transform": [{"filter": "datum.r === 'gray'"}], "mark": {"type": "line", "fill": "#bfbfbf", "stroke": "#222", "strokeWidth": 1}, "encoding": {"order": {"field": "i", "type": "quantitative"}}},
    {"transform": [{"filter": "datum.r === 'cap'"}], "mark": {"type": "rule", "color": "#222", "strokeWidth": 1.4}, "encoding": {"x": {"datum": 0}, "y": {"datum": 0}, "y2": {"datum": 1.3055}}},
    {"transform": [{"filter": "datum.r === 'cap'"}], "mark": {"type": "rule", "color": "#222", "strokeWidth": 1.4}, "encoding": {"x": {"datum": 0}, "x2": {"datum": 1.1938}, "y": {"datum": 0}}},
    {"transform": [{"filter": "datum.r === 'pt'"}], "mark": {"type": "point", "shape": "circle", "filled": true, "color": "#0000cc", "opacity": 1, "size": 280}},
    {"transform": [{"filter": "datum.r === 'bd'"}], "mark": {"type": "line", "color": "#ff0000", "strokeWidth": 3, "strokeJoin": "miter"}, "encoding": {"order": {"field": "i", "type": "quantitative"}}},
    {"transform": [{"filter": "datum.r === 'lab'"}], "mark": {"type": "text", "fontSize": 21, "color": "#222"}, "encoding": {"text": {"field": "t"}}},
    {"transform": [{"filter": "datum.r === 'eq'"}], "mark": {"type": "text", "fontSize": 23, "color": "#222"}, "encoding": {"text": {"field": "t"}}},
    {"transform": [{"filter": "datum.r === 'ax'"}], "mark": {"type": "text", "fontSize": 22, "fontStyle": "italic", "color": "#222"}, "encoding": {"text": {"field": "t"}}},
    {"transform": [{"filter": "datum.r === 'cap'"}], "mark": {"type": "text", "fontSize": 21, "color": "#111"}, "encoding": {"text": {"field": "t"}}}
   ]},
  {"width": 347, "height": 380, "data": {"name": "c"},
   "encoding": {
    "x": {"field": "x", "type": "quantitative", "axis": null, "scale": {"domain": [-0.4247, 1.4016], "nice": false, "zero": false}},
    "y": {"field": "y", "type": "quantitative", "axis": null, "scale": {"domain": [-0.5817, 1.4151], "nice": false, "zero": false}}},
   "layer": [
    {"transform": [{"filter": "datum.r === 'red'"}], "mark": {"type": "line", "style": "rh15", "stroke": "#ff3030", "strokeWidth": 0.8}, "encoding": {"order": {"field": "i", "type": "quantitative"}}},
    {"transform": [{"filter": "datum.r === 'blk'"}], "mark": {"type": "line", "style": "vh10", "stroke": "#000", "strokeWidth": 1}, "encoding": {"order": {"field": "i", "type": "quantitative"}}},
    {"transform": [{"filter": "datum.r === 'gray'"}], "mark": {"type": "line", "fill": "#bfbfbf", "stroke": "#222", "strokeWidth": 1}, "encoding": {"order": {"field": "i", "type": "quantitative"}}},
    {"transform": [{"filter": "datum.r === 'cap'"}], "mark": {"type": "rule", "color": "#222", "strokeWidth": 1.4}, "encoding": {"x": {"datum": 0}, "y": {"datum": 0}, "y2": {"datum": 1.298}}},
    {"transform": [{"filter": "datum.r === 'cap'"}], "mark": {"type": "rule", "color": "#222", "strokeWidth": 1.4}, "encoding": {"x": {"datum": 0}, "x2": {"datum": 1.398}, "y": {"datum": 0}}},
    {"transform": [{"filter": "datum.r === 'pt'"}], "mark": {"type": "point", "shape": "circle", "filled": true, "color": "#0000cc", "opacity": 1, "size": 225}},
    {"transform": [{"filter": "datum.r === 'bd'"}], "mark": {"type": "line", "color": "#ff0000", "strokeWidth": 3, "strokeJoin": "miter"}, "encoding": {"order": {"field": "i", "type": "quantitative"}}},
    {"transform": [{"filter": "datum.r === 'lab'"}], "mark": {"type": "text", "fontSize": 20, "color": "#222"}, "encoding": {"text": {"field": "t"}}},
    {"transform": [{"filter": "datum.r === 'eq'"}], "mark": {"type": "text", "fontSize": 23, "color": "#222"}, "encoding": {"text": {"field": "t"}}},
    {"transform": [{"filter": "datum.r === 'sm'"}], "mark": {"type": "text", "fontSize": 15.5, "color": "#222"}, "encoding": {"text": {"field": "t"}}},
    {"transform": [{"filter": "datum.r === 'ax'"}], "mark": {"type": "text", "fontSize": 21, "fontStyle": "italic", "color": "#222"}, "encoding": {"text": {"field": "t"}}},
    {"transform": [{"filter": "datum.r === 'cap'"}], "mark": {"type": "text", "fontSize": 21, "color": "#111"}, "encoding": {"text": {"field": "t"}}}
   ]}
 ], "spacing": 0, "bounds": "flush"},
 {"hconcat": [
  {"width": 400, "height": 370, "data": {"name": "d"},
   "encoding": {
    "x": {"field": "x", "type": "quantitative", "axis": null, "scale": {"domain": [-0.4686, 2.7468], "nice": false, "zero": false}},
    "y": {"field": "y", "type": "quantitative", "axis": null, "scale": {"domain": [-0.8189, 2.0945], "nice": false, "zero": false}}},
   "layer": [
    {"transform": [{"filter": "datum.r === 'red'"}], "mark": {"type": "line", "style": "rh15", "stroke": "#ff3030", "strokeWidth": 0.8}, "encoding": {"order": {"field": "i", "type": "quantitative"}}},
    {"transform": [{"filter": "datum.r === 'blk'"}], "mark": {"type": "line", "style": "vh10", "stroke": "#000", "strokeWidth": 1}, "encoding": {"order": {"field": "i", "type": "quantitative"}}},
    {"transform": [{"filter": "datum.r === 'gray'"}], "mark": {"type": "line", "fill": "#bfbfbf", "stroke": "#222", "strokeWidth": 1}, "encoding": {"order": {"field": "i", "type": "quantitative"}}},
    {"transform": [{"filter": "datum.r === 'cap'"}], "mark": {"type": "rule", "color": "#222", "strokeWidth": 1.4}, "encoding": {"x": {"datum": 0}, "y": {"datum": 0}, "y2": {"datum": 1.7535}}},
    {"transform": [{"filter": "datum.r === 'cap'"}], "mark": {"type": "rule", "color": "#222", "strokeWidth": 1.4}, "encoding": {"x": {"datum": 0}, "x2": {"datum": 1.79}, "y": {"datum": 0}}},
    {"transform": [{"filter": "datum.r === 'pt'"}], "mark": {"type": "point", "shape": "circle", "filled": true, "color": "#0000cc", "opacity": 1, "size": 150}},
    {"transform": [{"filter": "datum.r === 'bd'"}], "mark": {"type": "line", "color": "#ff0000", "strokeWidth": 2.6, "strokeJoin": "miter"}, "encoding": {"order": {"field": "i", "type": "quantitative"}}},
    {"transform": [{"filter": "datum.r === 'lab'"}], "mark": {"type": "text", "fontSize": 18, "color": "#222"}, "encoding": {"text": {"field": "t"}}},
    {"transform": [{"filter": "datum.r === 'eq'"}], "mark": {"type": "text", "fontSize": 20, "color": "#222"}, "encoding": {"text": {"field": "t"}}},
    {"transform": [{"filter": "datum.r === 'ax'"}], "mark": {"type": "text", "fontSize": 19, "fontStyle": "italic", "color": "#222"}, "encoding": {"text": {"field": "t"}}},
    {"transform": [{"filter": "datum.r === 'cap'"}], "mark": {"type": "text", "fontSize": 21, "color": "#111"}, "encoding": {"text": {"field": "t"}}}
   ]},
  {"width": 200, "height": 370, "data": {"name": "e"},
   "encoding": {
    "x": {"field": "x", "type": "quantitative", "axis": null, "scale": {"domain": [-1.2941, 2.6275], "nice": false, "zero": false}},
    "y": {"field": "y", "type": "quantitative", "axis": null, "scale": {"domain": [-1.9369, 5.1377], "nice": false, "zero": false}}},
   "layer": [
    {"transform": [{"filter": "datum.r === 'red'"}], "mark": {"type": "line", "style": "rh30", "stroke": "#ff3030", "strokeWidth": 0.8}, "encoding": {"order": {"field": "i", "type": "quantitative"}}},
    {"transform": [{"filter": "datum.r === 'blk'"}], "mark": {"type": "line", "style": "vh40", "stroke": "#000", "strokeWidth": 1}, "encoding": {"order": {"field": "i", "type": "quantitative"}}},
    {"transform": [{"filter": "datum.r === 'gray'"}], "mark": {"type": "line", "fill": "#bfbfbf", "stroke": "#333", "strokeWidth": 1}, "encoding": {"order": {"field": "i", "type": "quantitative"}}},
    {"transform": [{"filter": "datum.r === 'cap'"}], "mark": {"type": "rule", "color": "#333", "strokeWidth": 1.3}, "encoding": {"x": {"datum": 0}, "y": {"datum": 0}, "y2": {"datum": 3.99}}},
    {"transform": [{"filter": "datum.r === 'cap'"}], "mark": {"type": "rule", "color": "#333", "strokeWidth": 1.3}, "encoding": {"x": {"datum": 0}, "x2": {"datum": 4.01}, "y": {"datum": 0}}},
    {"transform": [{"filter": "datum.r === 'pt'"}], "mark": {"type": "point", "shape": "circle", "filled": true, "color": "#0000cc", "opacity": 1, "size": 160}},
    {"transform": [{"filter": "datum.r === 'bd'"}], "mark": {"type": "line", "color": "#ff0000", "strokeWidth": 2.6, "strokeJoin": "miter"}, "encoding": {"order": {"field": "i", "type": "quantitative"}}},
    {"transform": [{"filter": "datum.r === 'lab'"}], "mark": {"type": "text", "fontSize": 17, "color": "#444"}, "encoding": {"text": {"field": "t"}}},
    {"transform": [{"filter": "datum.r === 'eq'"}], "mark": {"type": "text", "fontSize": 18, "color": "#444"}, "encoding": {"text": {"field": "t"}}},
    {"transform": [{"filter": "datum.r === 'ax'"}], "mark": {"type": "text", "fontSize": 18, "fontStyle": "italic", "color": "#444"}, "encoding": {"text": {"field": "t"}}},
    {"transform": [{"filter": "datum.r === 'cap'"}], "mark": {"type": "text", "fontSize": 21, "color": "#111"}, "encoding": {"text": {"field": "t"}}}
   ]},
  {"width": 647, "height": 370,
   "data": {"values": [
    {"k": "pt", "label": "Corner point achievable only with feedback"},
    {"k": "line", "label": "Capacity region boundary"},
    {"k": "gray", "label": "Capacity region without feedback"},
    {"k": "red", "label": "Gain with (1000) feedback model"},
    {"k": "blk", "label": "Additional region achievable", "label2": "with (1111) feedback"}
   ]},
   "encoding": {
    "y": {"field": "label", "type": "nominal", "axis": null, "scale": {"type": "point", "padding": 0, "domain": ["Corner point achievable only with feedback", "Capacity region boundary", "Capacity region without feedback", "Gain with (1000) feedback model", "Additional region achievable"], "range": [63.3, 196]}}},
   "layer": [
    {"transform": [{"filter": "datum.k === 'pt'"}], "mark": {"type": "point", "shape": "circle", "filled": true, "color": "#0000cc", "opacity": 1, "size": 169},
     "encoding": {"x": {"datum": 0.0708, "type": "quantitative", "axis": null, "scale": {"domain": [0, 1], "nice": false, "zero": false}}}},
    {"transform": [{"filter": "datum.k === 'line'"}], "mark": {"type": "rule", "color": "#ff0000", "strokeWidth": 3},
     "encoding": {"x": {"datum": 0.0309, "type": "quantitative", "axis": null, "scale": {"domain": [0, 1], "nice": false, "zero": false}}, "x2": {"datum": 0.1066}}},
    {"transform": [{"filter": "datum.k === 'gray'"}], "mark": {"type": "rect", "fill": "#bfbfbf", "stroke": "#222", "strokeWidth": 1, "height": 17},
     "encoding": {"x": {"datum": 0.0263, "type": "quantitative", "axis": null, "scale": {"domain": [0, 1], "nice": false, "zero": false}}, "x2": {"datum": 0.1175}}},
    {"transform": [{"filter": "datum.k === 'red'"}], "mark": {"type": "rect", "stroke": "#ff3030", "strokeWidth": 1, "height": 17,
      "fill": {"gradient": "linear", "x1": 0, "y1": 1, "x2": 0.6, "y2": -0.2, "stops": [
{"offset":0,"color":"#f33"},{"offset":0.042857,"color":"#f33"},{"offset":0.042857,"color":"#fff"},{"offset":0.142857,"color":"#fff"},
{"offset":0.142857,"color":"#f33"},{"offset":0.185714,"color":"#f33"},{"offset":0.185714,"color":"#fff"},{"offset":0.285714,"color":"#fff"},
{"offset":0.285714,"color":"#f33"},{"offset":0.328571,"color":"#f33"},{"offset":0.328571,"color":"#fff"},{"offset":0.428571,"color":"#fff"},
{"offset":0.428571,"color":"#f33"},{"offset":0.471428,"color":"#f33"},{"offset":0.471428,"color":"#fff"},{"offset":0.571429,"color":"#fff"},
{"offset":0.571429,"color":"#f33"},{"offset":0.614286,"color":"#f33"},{"offset":0.614286,"color":"#fff"},{"offset":0.714286,"color":"#fff"},
{"offset":0.714286,"color":"#f33"},{"offset":0.757143,"color":"#f33"},{"offset":0.757143,"color":"#fff"},{"offset":0.857143,"color":"#fff"},
{"offset":0.857143,"color":"#f33"},{"offset":0.9,"color":"#f33"},{"offset":0.9,"color":"#fff"},{"offset":1,"color":"#fff"}]}},
     "encoding": {"x": {"datum": 0.0263, "type": "quantitative", "axis": null, "scale": {"domain": [0, 1], "nice": false, "zero": false}}, "x2": {"datum": 0.1175}}},
    {"transform": [{"filter": "datum.k === 'blk'"}], "mark": {"type": "rect", "stroke": "#222", "strokeWidth": 1, "height": 17,
      "fill": {"gradient": "linear", "x1": 0, "y1": 0, "x2": 1, "y2": 0, "stops": [
{"offset":0,"color":"#111"},{"offset":0.02,"color":"#111"},{"offset":0.02,"color":"#fff"},{"offset":0.066667,"color":"#fff"},
{"offset":0.066667,"color":"#111"},{"offset":0.086667,"color":"#111"},{"offset":0.086667,"color":"#fff"},{"offset":0.133333,"color":"#fff"},
{"offset":0.133333,"color":"#111"},{"offset":0.153333,"color":"#111"},{"offset":0.153333,"color":"#fff"},{"offset":0.2,"color":"#fff"},
{"offset":0.2,"color":"#111"},{"offset":0.22,"color":"#111"},{"offset":0.22,"color":"#fff"},{"offset":0.266667,"color":"#fff"},
{"offset":0.266667,"color":"#111"},{"offset":0.286667,"color":"#111"},{"offset":0.286667,"color":"#fff"},{"offset":0.333333,"color":"#fff"},
{"offset":0.333333,"color":"#111"},{"offset":0.353333,"color":"#111"},{"offset":0.353333,"color":"#fff"},{"offset":0.4,"color":"#fff"},
{"offset":0.4,"color":"#111"},{"offset":0.42,"color":"#111"},{"offset":0.42,"color":"#fff"},{"offset":0.466667,"color":"#fff"},
{"offset":0.466667,"color":"#111"},{"offset":0.486667,"color":"#111"},{"offset":0.486667,"color":"#fff"},{"offset":0.533333,"color":"#fff"},
{"offset":0.533333,"color":"#111"},{"offset":0.553333,"color":"#111"},{"offset":0.553333,"color":"#fff"},{"offset":0.6,"color":"#fff"},
{"offset":0.6,"color":"#111"},{"offset":0.62,"color":"#111"},{"offset":0.62,"color":"#fff"},{"offset":0.666667,"color":"#fff"},
{"offset":0.666667,"color":"#111"},{"offset":0.686667,"color":"#111"},{"offset":0.686667,"color":"#fff"},{"offset":0.733333,"color":"#fff"},
{"offset":0.733333,"color":"#111"},{"offset":0.753333,"color":"#111"},{"offset":0.753333,"color":"#fff"},{"offset":0.8,"color":"#fff"},
{"offset":0.8,"color":"#111"},{"offset":0.82,"color":"#111"},{"offset":0.82,"color":"#fff"},{"offset":0.866667,"color":"#fff"},
{"offset":0.866667,"color":"#111"},{"offset":0.886667,"color":"#111"},{"offset":0.886667,"color":"#fff"},{"offset":0.933333,"color":"#fff"},
{"offset":0.933333,"color":"#111"},{"offset":0.953333,"color":"#111"},{"offset":0.953333,"color":"#fff"},{"offset":1,"color":"#fff"}]}},
     "encoding": {"x": {"datum": 0.0263, "type": "quantitative", "axis": null, "scale": {"domain": [0, 1], "nice": false, "zero": false}}, "x2": {"datum": 0.1175}}},
    {"mark": {"type": "text", "align": "left", "fontSize": 22.7, "color": "#111"},
     "encoding": {"x": {"datum": 0.1314, "type": "quantitative", "axis": null, "scale": {"domain": [0, 1], "nice": false, "zero": false}}, "text": {"field": "label"}}},
    {"transform": [{"filter": "datum.k === 'blk'"}], "mark": {"type": "text", "align": "left", "fontSize": 22.7, "color": "#111", "dy": 26.7},
     "encoding": {"x": {"datum": 0.219, "type": "quantitative", "axis": null, "scale": {"domain": [0, 1], "nice": false, "zero": false}}, "text": {"field": "label2"}}}
   ]}
 ], "spacing": 0, "bounds": "flush"}
]
}
